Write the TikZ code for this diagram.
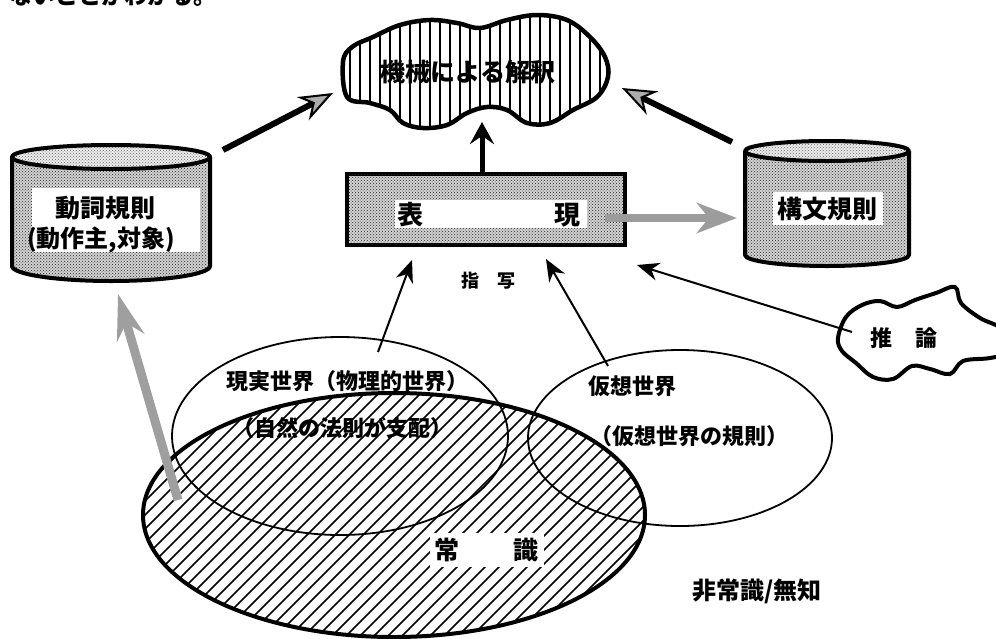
\documentclass[tikz,border=0pt]{standalone}
\usepackage{fontspec}
\setmainfont{Noto Sans CJK JP}
\usetikzlibrary{arrows.meta,patterns}
\tikzset{
  jp/.style={font=\fontsize{#1pt}{#1pt}\selectfont\bfseries, inner sep=0pt},
  outline/.style={line width=4pt, line join=round},
  thinline/.style={line width=1.8pt},
  hatch/.style={line width=1.6pt},
  vhatch/.style={line width=1.8pt},
  bodyfill/.style={fill=gray!35, postaction={pattern=crosshatch dots, pattern color=black!85}},
  topfill/.style={fill=gray!15, postaction={pattern=crosshatch dots, pattern color=black!60}},
  bigarrow/.style={line width=6pt, -{Stealth[length=34pt, width=26pt, inset=11pt, line width=2pt, fill=gray!65]}},
  uparrow/.style={line width=5pt, -{Stealth[length=22pt, width=24pt, inset=8pt]}},
  grayarrow/.style={line width=8pt, draw=gray!78, -{Stealth[length=40pt, width=30pt, inset=12pt, fill=gray!78]}},
  longarrow/.style={line width=9pt, draw=gray!75, -{Stealth[length=45pt, width=28pt, inset=15pt, fill=gray!75]}},
  thinarrow/.style={line width=2pt, -{Stealth[length=22pt, width=18pt, inset=7pt]}},
  whitebox/.style={fill=white, draw=none, inner sep=0pt}
}
\begin{document}
\begin{tikzpicture}[x=1pt,y=1pt]
\useasboundingbox (0,0) rectangle (996,-638);
\clip (0,0) rectangle (996,-638);

% cut-off line of page text
\node[jp=23, anchor=base west] (topline) at (9,-4) {ないことがわかる。};

% ---- common-sense ellipse (hatched) ----
\begin{scope}
  \clip (394,-515) ellipse [x radius=251pt, y radius=122pt];
  \foreach \c in {-130,-116,...,660} \draw[hatch] (\c,-650) -- ++(280,280);
\end{scope}
\draw[outline] (394,-515) ellipse [x radius=251pt, y radius=122pt];
\node[jp=25, fill=white, inner sep=5pt] (joshiki) at (486.5,-550) {常\hspace{54pt}識};

% ---- real world / virtual world ellipses ----
\draw[thinline] (340,-436) ellipse [x radius=168pt, y radius=99pt];
\draw[thinline] (680,-438) ellipse [x radius=152pt, y radius=88pt];
\node[jp=22] (real) at (347,-381) {現実世界（物理的世界）};
\node[jp=22] (nature) at (342,-428) {（自然の法則が支配）};
\node[jp=22] (virt) at (632,-386) {仮想世界};
\node[jp=22] (virtrule) at (689,-436) {（仮想世界の規則）};
\node[jp=24] (hijoshiki) at (757,-591) {非常識/無知};

% ---- interpretation cloud ----
\begin{scope}
  \clip plot[smooth cycle, tension=0.6] coordinates {(343,-62) (352,-47) (373,-37) (400,-25) (430,-20) (457,-23) (480,-28) (507,-20) (537,-15) (567,-20) (590,-37) (605,-57) (608,-77) (597,-97) (573,-110) (550,-123) (527,-123) (507,-110) (487,-107) (467,-113) (447,-125) (423,-128) (403,-123) (390,-110) (370,-103) (347,-97)};
  \foreach \x in {340,350,...,620} \draw[vhatch] (\x,0) -- (\x,-140);
\end{scope}
\draw[outline, line width=4.5pt] plot[smooth cycle, tension=0.6] coordinates {(343,-62) (352,-47) (373,-37) (400,-25) (430,-20) (457,-23) (480,-28) (507,-20) (537,-15) (567,-20) (590,-37) (605,-57) (608,-77) (597,-97) (573,-110) (550,-123) (527,-123) (507,-110) (487,-107) (467,-113) (447,-125) (423,-128) (403,-123) (390,-110) (370,-103) (347,-97)};
\node[jp=25] (interp) at (468,-72) {機械による解釈};

% ---- verb rule cylinder ----
\path[bodyfill] (12,-157) -- (12,-266) arc[start angle=180, end angle=360, x radius=99pt, y radius=15pt] -- (210,-157) -- cycle;
\path[topfill] (111,-157) ellipse [x radius=99pt, y radius=12pt];
\draw[outline] (12,-157) -- (12,-266) arc[start angle=180, end angle=360, x radius=99pt, y radius=15pt] -- (210,-157);
\draw[outline] (111,-157) ellipse [x radius=99pt, y radius=12pt];
\node[whitebox, minimum width=168pt, minimum height=64pt] (verbbox) at (116,-220) {};
\node[jp=25] (verb1) at (105,-208) {動詞規則};
\node[jp=24] (verb2) at (101,-240) {(動作主,対象)};

% ---- syntax rule cylinder ----
\path[bodyfill] (745,-151) -- (745,-255) arc[start angle=180, end angle=360, x radius=82pt, y radius=11pt] -- (909,-151) -- cycle;
\path[topfill] (827,-151) ellipse [x radius=82pt, y radius=10pt];
\draw[outline] (745,-151) -- (745,-255) arc[start angle=180, end angle=360, x radius=82pt, y radius=11pt] -- (909,-151);
\draw[outline] (827,-151) ellipse [x radius=82pt, y radius=10pt];
\node[whitebox, minimum width=110pt, minimum height=33pt] (synbox) at (828,-208.5) {};
\node[jp=25] (syn) at (827,-209) {構文規則};

% ---- expression box ----
\node[draw, line width=4pt, bodyfill, minimum width=278pt, minimum height=71pt, inner sep=0pt] (hyogen) at (486,-209.5) {};
\node[whitebox, minimum width=192pt, minimum height=28pt] (hyogenin) at (491,-214) {};
\node[jp=26] (hyo) at (410,-215) {表};
\node[jp=26] (gen) at (567,-215) {現};
\node[jp=18] (byosha) at (488,-281) {指\hspace{18pt}写};

% ---- inference cloud ----
\draw[outline, fill=white] plot[smooth cycle, tension=0.6] coordinates {(838,-338) (846,-317) (862,-305) (880,-301) (897,-307) (915,-300) (936,-293) (955,-287) (961,-303) (980,-318) (1003,-330) (1006,-352) (990,-358) (963,-361) (950,-374) (930,-369) (912,-366) (893,-379) (873,-377) (856,-363) (842,-351)};
\node[jp=22] (suiron) at (903.5,-338) {推\hspace{23pt}論};

% ---- connectors ----
\coordinate (Lt) at (223,-150); \coordinate (Lh) at (333,-93);
\coordinate (Rt) at (732,-142); \coordinate (Rh) at (622,-88);
\coordinate (Ut) at (482,-172); \coordinate (Uh) at (482,-122);
\coordinate (Gt) at (605,-218); \coordinate (Gh) at (737,-218);
\coordinate (At) at (378,-352); \coordinate (Ah) at (412,-260);
\coordinate (Bt) at (608,-366); \coordinate (Bh) at (546,-259);
\coordinate (Ct) at (852,-332); \coordinate (Ch) at (637,-265);
\coordinate (Kt) at (178,-500); \coordinate (Kh) at (118,-294);

\draw[bigarrow] (Lt) -- (Lh);
\draw[bigarrow] (Rt) -- (Rh);
\draw[uparrow] (Ut) -- (Uh);
\draw[grayarrow] (Gt) -- (Gh);
\draw[thinarrow] (At) -- (Ah);
\draw[thinarrow] (Bt) -- (Bh);
\draw[thinarrow] (Ct) -- (Ch);
\draw[longarrow] (Kt) -- (Kh);
\end{tikzpicture}
\end{document}
